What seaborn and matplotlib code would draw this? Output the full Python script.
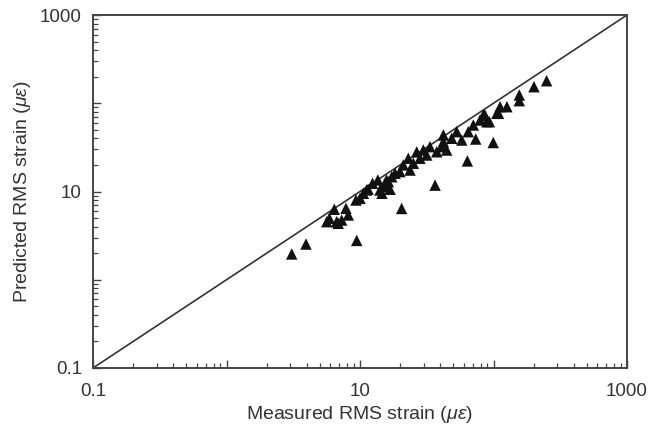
import numpy as np
import pandas as pd
import matplotlib
matplotlib.use("Agg")
import matplotlib.pyplot as plt
from matplotlib.ticker import FixedLocator, FixedFormatter, LogLocator, NullFormatter
import seaborn as sns

# RMS strain readings (micro-strain)
measured = [3.08, 3.94, 9.45, 5.89, 6.42, 7.85, 6.69, 7.29, 8.17, 9.33,
            10.6, 10.0, 11.5, 12.4, 14.1, 15.4, 16.8, 15.8, 17.3, 18.3,
            20.5, 36.5, 63.7, 99.6, 73.6, 57.8, 64.7, 70.6, 79.3, 89.0,
            86.3, 106, 53.0, 48.6, 42.1, 40.9, 44.6, 37.6, 33.4, 31.6,
            28.1, 25.1, 23.0, 21.1, 23.7, 19.9, 16.3, 15.0, 14.6, 42.1,
            29.8, 250, 201, 156, 156, 126, 112, 109, 83.9, 93.1,
            5.64, 6.87, 11.2, 13.6, 26.6]
predicted = [1.96, 2.54, 2.79, 4.97, 6.29, 6.45, 4.55, 4.75, 5.42, 8.01,
             9.54, 8.37, 10.6, 12.4, 10.4, 11.8, 10.6, 13.5, 14.7, 16.1,
             6.42, 11.8, 22.2, 35.9, 39.3, 38.3, 47.6, 56.7, 64.6, 61.8,
             73.6, 76.9, 47.6, 40.1, 43.7, 32.2, 29.5, 28.2, 32.2, 25.9,
             23.8, 20.9, 23.8, 20.0, 17.5, 16.8, 12.9, 11.3, 9.54, 36.7,
             29.5, 180, 154, 124, 107, 91.4, 91.4, 76.9, 73.6, 61.8,
             4.55, 4.36, 10.4, 13.5, 28.1]

axis_range = [0.1, 1000]
major_ticks = [0.1, 1, 10, 100, 1000]
tick_labels = ["0.1", "", "10", "", "1000"]

df = pd.DataFrame({"measured": measured, "predicted": predicted})

sns.set_style("ticks")
plt.rcParams["font.family"] = ["Liberation Sans", "DejaVu Sans"]
plt.rcParams["mathtext.fontset"] = "custom"
plt.rcParams["mathtext.it"] = "Liberation Sans:italic"
plt.rcParams["mathtext.rm"] = "Liberation Sans"

text_col = "#333333"
fig = plt.figure(figsize=(6.6, 4.34), dpi=100)
ax = fig.add_axes([93 / 660, 1 - 368 / 434, 534 / 660, 353 / 434])

ax.plot(axis_range, axis_range, color="#333333", lw=1.2, zorder=1)
sns.scatterplot(data=df, x="measured", y="predicted", marker="^", s=68,
                color="#111111", edgecolor="none", ax=ax, zorder=2)

ax.set_xscale("log")
ax.set_yscale("log")
ax.set_xlim(axis_range)
ax.set_ylim(axis_range)

for axis in (ax.xaxis, ax.yaxis):
    axis.set_major_locator(FixedLocator(major_ticks))
    axis.set_major_formatter(FixedFormatter(tick_labels))
    axis.set_minor_locator(LogLocator(base=10, subs=np.arange(2, 10)))
    axis.set_minor_formatter(NullFormatter())

ax.tick_params(which="both", direction="in", top=False, right=False,
               colors="#444444", labelcolor=text_col, labelsize=13.5)
ax.tick_params(which="major", length=6, width=1)
ax.tick_params(which="minor", length=3.5, width=0.9)
ax.tick_params(axis="x", pad=11)
ax.tick_params(axis="y", pad=8)

for sp in ax.spines.values():
    sp.set_color("#444444")
    sp.set_linewidth(1.4)

ax.set_xlabel(r"Measured RMS strain ($\mu\varepsilon$)", fontsize=14,
              color=text_col, labelpad=3)
ax.set_ylabel(r"Predicted RMS strain ($\mu\varepsilon$)", fontsize=14,
              color=text_col, labelpad=5)

fig.savefig("out.png", dpi=100, facecolor="white")
